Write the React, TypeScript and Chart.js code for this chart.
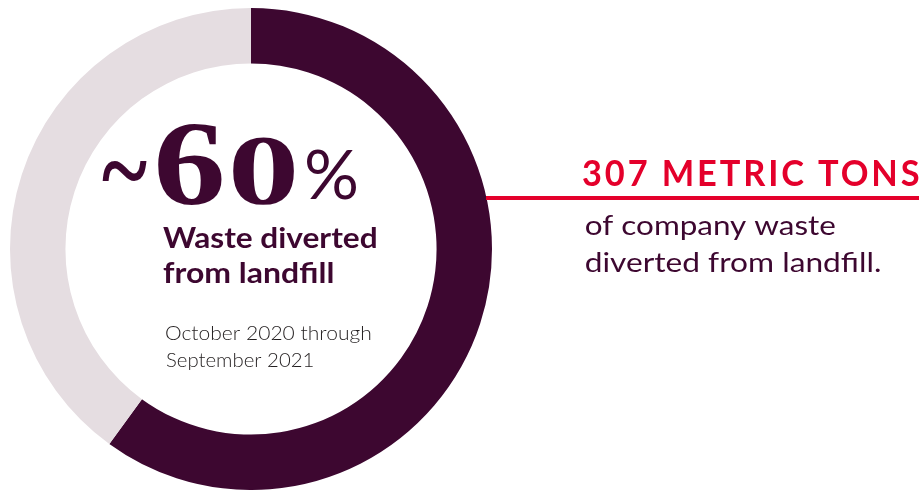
import React, { useEffect, useRef } from "react";
import { Chart, registerables } from "chart.js";

Chart.register(...registerables);

const categories = ["Diverted from landfill", "Other"];
const shares = [60, 40];
const sliceColors = ["#3d0730", "#e5dde1"];
const headline = "307 METRIC TONS";
const subLines = ["of company waste", "diverted from landfill."];
const centerLines = ["Waste diverted", "from landfill"];
const periodLines = ["October 2020 through", "September 2021"];

const DARK = "#3d0730";
const RED = "#e4002b";
const SANS = "Lato";
const SERIF = "'Liberation Serif'";

// draw text so its ink box fills the given rectangle
function drawBox(ctx: CanvasRenderingContext2D, text: string, font: string, left: number, top: number, w: number, h: number) {
  ctx.save();
  ctx.font = font;
  const m = ctx.measureText(text);
  const bw = m.actualBoundingBoxLeft + m.actualBoundingBoxRight;
  const bh = m.actualBoundingBoxAscent + m.actualBoundingBoxDescent;
  ctx.translate(left, top);
  ctx.scale(w / bw, h / bh);
  ctx.fillText(text, m.actualBoundingBoxLeft, m.actualBoundingBoxAscent);
  ctx.restore();
}

// draw text on a baseline, stretched horizontally to a given ink width
function drawWidth(ctx: CanvasRenderingContext2D, text: string, font: string, left: number, baseline: number, w: number, spacing = 0) {
  ctx.save();
  ctx.font = font;
  (ctx as any).letterSpacing = spacing + "px";
  const m = ctx.measureText(text);
  const bw = m.actualBoundingBoxLeft + m.actualBoundingBoxRight - spacing;
  ctx.translate(left, baseline);
  ctx.scale(w / bw, 1);
  ctx.fillText(text, m.actualBoundingBoxLeft, 0);
  ctx.restore();
}

const textPlugin = {
  id: "texts",
  afterDraw(chart: any) {
    const ctx = chart.ctx as CanvasRenderingContext2D;
    ctx.save();
    ctx.textBaseline = "alphabetic";
    ctx.textAlign = "left";

    // red connector line
    ctx.fillStyle = RED;
    ctx.fillRect(486, 196, 433, 4);

    // headline
    drawWidth(ctx, headline, `bold 36px ${SANS}`, 583, 186, 333, 3);

    // sub text
    ctx.fillStyle = DARK;
    drawWidth(ctx, subLines[0], `26px ${SANS}`, 586, 235, 249);
    drawWidth(ctx, subLines[1], `26px ${SANS}`, 586, 272, 294);

    // ~60%
    const digits = String(shares[0]);
    drawBox(ctx, "~", `bold 100px ${SERIF}`, 102, 162, 45, 20);
    drawBox(ctx, digits[0], `bold 120px ${SERIF}`, 158, 123, 64, 82);
    drawBox(ctx, digits[1], `bold 100px ${SERIF}`, 232, 138, 63, 67);
    drawBox(ctx, "%", `70px ${SANS}`, 307, 149, 50, 51);

    drawWidth(ctx, centerLines[0], `bold 29px ${SANS}`, 163, 248, 213);
    drawWidth(ctx, centerLines[1], `bold 29px ${SANS}`, 163, 283, 170);

    ctx.fillStyle = "#231f20";
    drawWidth(ctx, periodLines[0], `300 19.5px ${SANS}`, 166, 340, 205);
    drawWidth(ctx, periodLines[1], `300 19.5px ${SANS}`, 166, 367, 147);
    ctx.restore();
  },
};

export default function App() {
  const ref = useRef<HTMLCanvasElement>(null);
  useEffect(() => {
    if (!ref.current) return;
    const chart = new Chart(ref.current, {
      type: "doughnut",
      data: {
        labels: categories,
        datasets: [
          {
            data: shares,
            backgroundColor: sliceColors,
            borderWidth: 0,
          },
        ],
      },
      options: {
        responsive: false,
        animation: false,
        cutout: "77%",
        layout: { padding: { left: 10, top: 8, right: 429, bottom: 0 } },
        plugins: { legend: { display: false }, tooltip: { enabled: false } },
      },
      plugins: [textPlugin],
    });
    return () => chart.destroy();
  }, []);
  return (
    <div style={{ position: "absolute", left: 0, top: 0, width: 921, height: 490, background: "#fff" }}>
      <canvas ref={ref} width={921} height={490} />
    </div>
  );
}
